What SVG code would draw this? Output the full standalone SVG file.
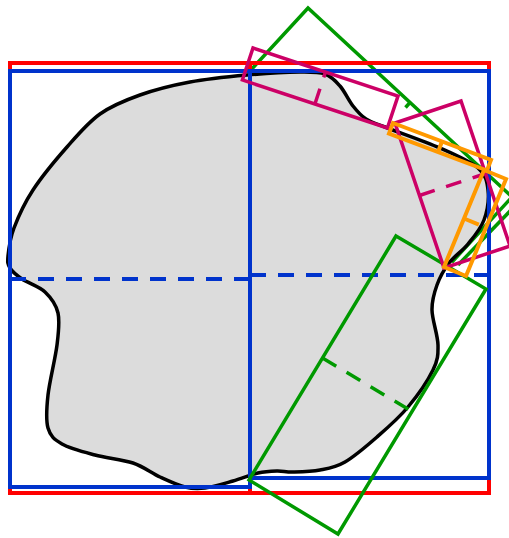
<svg xmlns="http://www.w3.org/2000/svg" width="509" height="538" viewBox="0 0 509 538">
<style>
.sh{fill:none;stroke-linejoin:miter}
.red{stroke:#ff0000;stroke-width:4}
.blue{stroke:#0033cc;stroke-width:4}
.green{stroke:#009900;stroke-width:3.5}
.mag{stroke:#cc0066;stroke-width:3.5}
.org{stroke:#ff9900;stroke-width:4}
.dash{stroke-dasharray:16 12}
</style>
<rect width="509" height="538" fill="#ffffff"/>
<g id="green-top">
<polygon class="sh green" points="249,72 308,8 512,197 453,261"/>
<line class="green" x1="410" y1="102.5" x2="405.5" y2="107.5"/>
<line class="green" x1="512" y1="209" x2="458" y2="265"/>
</g>
<g id="shape">
<path d="M8,256 C8.67,249.330 9.83,239 14,228 C18.17,217 24.17,203.5 33,190 C41.83,176.5 55.83,159.67 67,147 C78.17,134.33 87.83,122.67 100,114 C112.17,105.33 125,100.33 140,95 C155,89.67 172.17,85.33 190,82 C207.83,78.67 228.67,76.67 247,75 C265.33,73.33 287,72.17 300,72 C313,71.83 318.33,71.67 325,74 C331.67,76.33 335.33,80.67 340,86 C344.67,91.33 348.67,100.5 353,106 C357.33,111.5 360.67,115.5 366,119 C371.33,122.5 372.67,122.17 385,127 C397.33,131.83 424.5,141.17 440,148 C455.5,154.83 470,161 478,168 C486,175 487,181.33 488,190 C489,198.67 487.33,211 484,220 C480.67,229 473.83,236.83 468,244 C462.17,251.17 454.17,256.17 449,263 C443.83,269.83 439.83,277.17 437,285 C434.17,292.83 431.83,300 432,310 C432.17,320 437.83,335 438,345 C438.17,355 438,359.67 433,370 C428,380.33 417.33,395.83 408,407 C398.67,418.17 387.5,427.83 377,437 C366.5,446.17 354.5,456.5 345,462 C335.5,467.5 328.67,468.33 320,470 C311.33,471.67 300.17,471.83 293,472 C285.83,472.17 282.83,470.83 277,471 C271.17,471.17 265.33,471.33 258,473 C250.67,474.67 241.83,478.5 233,481 C224.17,483.5 213,487 205,488 C197,489 192.5,488.83 185,487 C177.5,485.17 168.67,481 160,477 C151.33,473 143.83,466.67 133,463 C122.17,459.33 106.83,458.17 95,455 C83.17,451.83 69.83,448.5 62,444 C54.17,439.5 50.33,436.17 48,428 C45.67,419.83 46.5,408.83 48,395 C49.5,381.17 55.33,358.67 57,345 C58.67,331.33 60,321.83 58,313 C56,304.17 51,297.67 45,292 C39,286.33 27.83,283 22,279 C16.17,275 12.33,271.83 10,268 C7.67,264.17 7.33,262.67 8,256 Z" fill="#dcdcdc" stroke="#000000" stroke-width="3.5"/>
</g>
<g id="red-box">
<rect class="sh red" x="10" y="63" width="479" height="430"/>
<line class="red" x1="250" y1="63" x2="250" y2="493"/>
</g>
<g id="blue-left">
<rect class="sh blue" x="10" y="71" width="240" height="416"/>
<line class="blue dash" x1="10" y1="279" x2="250" y2="279"/>
</g>
<g id="blue-right">
<rect class="sh blue" x="250" y="71" width="239" height="407"/>
<line class="blue dash" x1="250" y1="275" x2="489" y2="275"/>
</g>
<g id="green-bottom">
<polygon class="sh green" points="396,236 486,289 338,534 249,480"/>
<line class="green dash" x1="322.5" y1="358" x2="412" y2="411.5"/>
</g>
<g id="magenta-1">
<polygon class="sh mag" points="253,48 398,96 387.4,128 242.4,80"/>
<line class="mag dash" x1="314.9" y1="104" x2="325.5" y2="72"/>
</g>
<g id="magenta-2">
<polygon class="sh mag" points="395,123 461,101 510,246 444,268"/>
<line class="mag dash" x1="419.5" y1="195.5" x2="485.5" y2="173.5"/>
</g>
<g id="orange-1">
<polygon class="sh org" points="393,123 491,160 487,170.5 389,133.5"/>
<line class="org" x1="442" y1="141.5" x2="438" y2="152"/>
</g>
<g id="orange-2">
<polygon class="sh org" points="484,170 506,179 466,276 444,267"/>
<line class="org dash" x1="464" y1="218.5" x2="486" y2="227.5"/>
</g>
</svg>
